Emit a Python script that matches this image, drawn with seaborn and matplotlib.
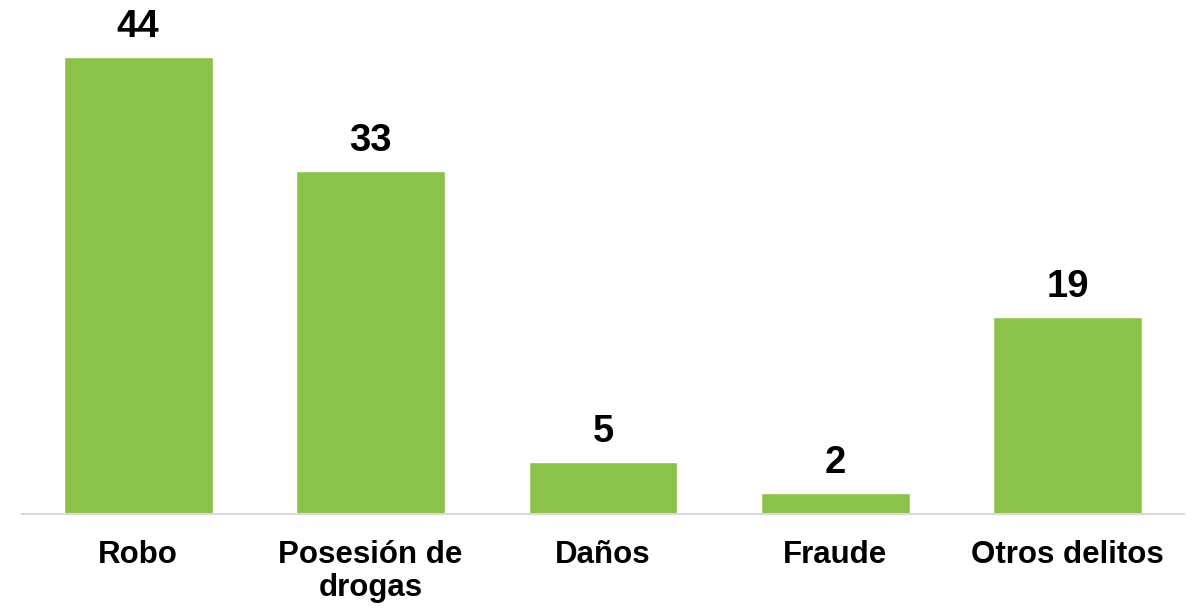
import pandas as pd
import matplotlib
matplotlib.use("Agg")
import matplotlib.pyplot as plt
import seaborn as sns

###### Data
categorias = ["Robo", "Posesión de\ndrogas", "Daños", "Fraude", "Otros delitos"]
valores = [44, 33, 5, 2, 19]

df = pd.DataFrame({"categoria": categorias, "valor": valores})

sns.set_style("white")
plt.rcParams["font.family"] = ["Liberation Sans", "DejaVu Sans"]
plt.rcParams["text.color"] = "black"

fig = plt.figure(figsize=(11.92, 6.09), dpi=100)
ax = fig.add_axes([22 / 1192, 95 / 609, 1162 / 1192, 514 / 609])

sns.barplot(data=df, x="categoria", y="valor", color="#8BC34A",
            saturation=1, width=0.64, ax=ax)

# value labels above bars
for i, v in enumerate(valores):
    ax.annotate(str(v), (i, v), xytext=(0, 14.4), textcoords="offset points",
                ha="center", va="baseline", fontsize=27.5, fontweight="bold",
                color="black")

ax.set_ylim(0, 49.5)
ax.set_xlim(-0.5, len(categorias) - 0.5)
ax.set_xlabel("")
ax.set_ylabel("")
ax.set_yticks([])
ax.tick_params(axis="x", length=0, pad=19, colors="black")
for lbl in ax.get_xticklabels():
    lbl.set_fontsize(22.5)
    lbl.set_fontweight("bold")
    lbl.set_linespacing(1.1)

for s in ["top", "left", "right"]:
    ax.spines[s].set_visible(False)
ax.spines["bottom"].set_color("#d9d9d9")
ax.spines["bottom"].set_linewidth(1.5)

fig.savefig("out.png", dpi=100)
